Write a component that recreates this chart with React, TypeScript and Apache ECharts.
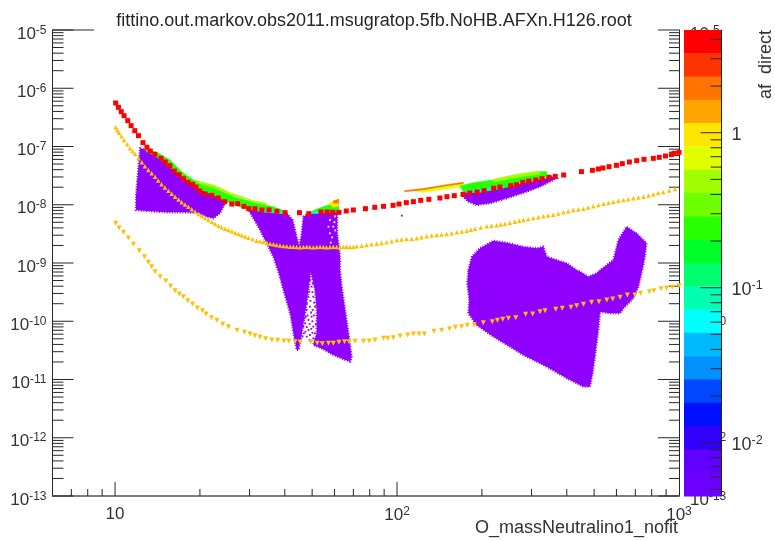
import React, { useEffect, useRef } from "react";
import * as echarts from "echarts";

const chartTitle = "fittino.out.markov.obs2011.msugratop.5fb.NoHB.AFXn.H126.root";
const xTitle = "O_massNeutralino1_nofit";
const barTitle = "af  direct";

// All points are [log10(mass), log10(sigma)].
const redPoints = [[1.002,-6.253],[1.012,-6.328],[1.022,-6.402],[1.032,-6.471],[1.045,-6.556],[1.057,-6.642],[1.07,-6.728],[1.083,-6.814],[1.099,-6.934],[1.113,-7.014],[1.125,-7.077],[1.141,-7.134],[1.163,-7.203],[1.178,-7.266],[1.194,-7.329],[1.21,-7.421],[1.227,-7.484],[1.243,-7.552],[1.259,-7.615],[1.275,-7.649],[1.287,-7.695],[1.3,-7.764],[1.319,-7.815],[1.343,-7.838],[1.366,-7.884],[1.389,-7.947],[1.414,-7.987],[1.435,-7.981],[1.457,-8.027],[1.474,-8.067],[1.496,-8.067],[1.521,-8.09],[1.546,-8.09],[1.574,-8.113],[1.603,-8.136],[1.654,-8.136],[1.687,-8.153],[1.73,-8.124],[1.752,-8.124],[1.772,-8.13],[1.794,-8.13],[1.82,-8.107],[1.845,-8.09],[1.888,-8.067],[1.921,-8.044],[1.952,-8.027],[1.986,-8.01],[2.007,-7.987],[2.033,-7.964],[2.058,-7.947],[2.084,-7.924],[2.113,-7.907],[2.152,-7.884],[2.177,-7.861],[2.203,-7.844],[2.234,-7.821],[2.258,-7.798],[2.284,-7.781],[2.309,-7.758],[2.343,-7.718],[2.365,-7.695],[2.403,-7.672],[2.424,-7.655],[2.446,-7.615],[2.467,-7.592],[2.492,-7.575],[2.514,-7.552],[2.539,-7.529],[2.561,-7.512],[2.591,-7.489],[2.654,-7.432],[2.693,-7.409],[2.714,-7.386],[2.73,-7.369],[2.752,-7.346],[2.778,-7.323],[2.799,-7.295],[2.824,-7.266],[2.85,-7.243],[2.876,-7.22],[2.909,-7.203],[2.93,-7.186],[2.952,-7.163],[2.973,-7.14],[2.983,-7.117],[3,-7.1]];

const goldUpperPoints = [[1.002,-6.671],[1.008,-6.715],[1.014,-6.763],[1.023,-6.825],[1.032,-6.888],[1.043,-6.96],[1.053,-7.031],[1.062,-7.08],[1.071,-7.129],[1.083,-7.2],[1.095,-7.272],[1.106,-7.338],[1.118,-7.403],[1.13,-7.46],[1.142,-7.518],[1.153,-7.584],[1.165,-7.649],[1.177,-7.703],[1.189,-7.758],[1.201,-7.81],[1.213,-7.861],[1.225,-7.91],[1.236,-7.958],[1.248,-7.996],[1.26,-8.033],[1.272,-8.076],[1.284,-8.119],[1.307,-8.193],[1.331,-8.262],[1.355,-8.33],[1.378,-8.388],[1.402,-8.433],[1.426,-8.479],[1.449,-8.525],[1.473,-8.565],[1.502,-8.617],[1.526,-8.639],[1.55,-8.668],[1.573,-8.691],[1.597,-8.708],[1.621,-8.72],[1.644,-8.725],[1.668,-8.725],[1.691,-8.725],[1.715,-8.725],[1.739,-8.725],[1.762,-8.725],[1.786,-8.725],[1.81,-8.725],[1.833,-8.725],[1.857,-8.714],[1.892,-8.691],[1.928,-8.668],[1.963,-8.645],[1.999,-8.605],[2.034,-8.588],[2.07,-8.577],[2.105,-8.542],[2.141,-8.519],[2.176,-8.502],[2.212,-8.474],[2.247,-8.445],[2.277,-8.411],[2.318,-8.371],[2.353,-8.353],[2.383,-8.325],[2.418,-8.29],[2.448,-8.262],[2.483,-8.227],[2.519,-8.199],[2.554,-8.17],[2.59,-8.13],[2.625,-8.09],[2.661,-8.067],[2.696,-8.027],[2.732,-7.981],[2.767,-7.947],[2.803,-7.918],[2.838,-7.89],[2.874,-7.861],[2.909,-7.821],[2.944,-7.781],[2.986,-7.73]];
const goldUpperDense = [[1.296,-8.157],[1.319,-8.228],[1.343,-8.296],[1.367,-8.36],[1.39,-8.41],[1.414,-8.456],[1.438,-8.502],[1.461,-8.545],[1.488,-8.59],[1.514,-8.628],[1.538,-8.654],[1.562,-8.68],[1.585,-8.7],[1.609,-8.714],[1.632,-8.722],[1.656,-8.73],[1.68,-8.72],[1.703,-8.73],[1.727,-8.72],[1.75,-8.73],[1.774,-8.722],[1.798,-8.73],[1.821,-8.72],[1.845,-8.72],[1.875,-8.702],[1.91,-8.68],[1.945,-8.655],[1.981,-8.625],[2.016,-8.597],[2.052,-8.582],[2.087,-8.56],[2.123,-8.53],[2.158,-8.51],[2.194,-8.488],[2.23,-8.46],[2.262,-8.428],[2.297,-8.39],[2.335,-8.362],[2.368,-8.34],[2.4,-8.308],[2.433,-8.276],[2.465,-8.245],[2.501,-8.213],[2.536,-8.185],[2.572,-8.15],[2.607,-8.11],[2.643,-8.08],[2.678,-8.047],[2.714,-8.004],[2.75,-7.964],[2.785,-7.932],[2.82,-7.904],[2.856,-7.876],[2.892,-7.84],[2.926,-7.8],[2.965,-7.755]];

const goldLowerPoints = [[1.002,-8.319],[1.014,-8.399],[1.03,-8.474],[1.047,-8.571],[1.065,-8.68],[1.086,-8.788],[1.104,-8.891],[1.118,-8.989],[1.13,-9.063],[1.142,-9.149],[1.16,-9.235],[1.18,-9.309],[1.197,-9.395],[1.213,-9.475],[1.228,-9.532],[1.242,-9.578],[1.258,-9.647],[1.275,-9.704],[1.292,-9.773],[1.31,-9.818],[1.323,-9.876],[1.342,-9.938],[1.361,-9.984],[1.382,-10.053],[1.402,-10.093],[1.433,-10.156],[1.459,-10.19],[1.479,-10.219],[1.496,-10.247],[1.514,-10.27],[1.534,-10.299],[1.556,-10.322],[1.577,-10.328],[1.599,-10.339],[1.616,-10.339],[1.638,-10.35],[1.656,-10.356],[1.694,-10.356],[1.717,-10.379],[1.735,-10.385],[1.757,-10.379],[1.774,-10.379],[1.794,-10.362],[1.814,-10.35],[1.83,-10.35],[1.851,-10.345],[1.881,-10.345],[1.901,-10.339],[1.922,-10.322],[1.952,-10.293],[1.967,-10.293],[1.987,-10.282],[2.011,-10.253],[2.038,-10.236],[2.058,-10.219],[2.078,-10.219],[2.097,-10.219],[2.131,-10.173],[2.158,-10.156],[2.186,-10.133],[2.207,-10.104],[2.229,-10.093],[2.249,-10.07],[2.274,-10.059],[2.306,-10.024],[2.338,-10.007],[2.356,-9.984],[2.375,-9.967],[2.395,-9.95],[2.421,-9.938],[2.456,-9.881],[2.481,-9.876],[2.507,-9.835],[2.525,-9.818],[2.563,-9.795],[2.586,-9.778],[2.617,-9.761],[2.637,-9.732],[2.661,-9.71],[2.69,-9.675],[2.716,-9.664],[2.744,-9.635],[2.765,-9.618],[2.791,-9.589],[2.817,-9.549],[2.844,-9.549],[2.864,-9.521],[2.895,-9.492],[2.911,-9.475],[2.936,-9.441],[2.956,-9.429],[2.976,-9.418],[3,-9.389]];

const regionLowMass = [[1.089,-7.031],[1.112,-7.06],[1.148,-7.117],[1.183,-7.232],[1.219,-7.432],[1.254,-7.575],[1.301,-7.718],[1.349,-7.804],[1.384,-7.918],[1.387,-8.004],[1.372,-8.147],[1.349,-8.233],[1.325,-8.204],[1.301,-8.147],[1.254,-8.13],[1.183,-8.13],[1.112,-8.107],[1.074,-8.09],[1.074,-7.861],[1.082,-7.403],[1.086,-7.174]];
const regionFunnel = [[1.473,-8.09],[1.526,-8.078],[1.609,-8.147],[1.63,-8.262],[1.644,-8.548],[1.653,-8.708],[1.66,-8.548],[1.668,-8.204],[1.686,-8.147],[1.727,-8.09],[1.774,-8.061],[1.788,-8.147],[1.788,-8.49],[1.798,-8.891],[1.798,-9.12],[1.804,-9.406],[1.816,-9.806],[1.828,-10.207],[1.839,-10.608],[1.834,-10.693],[1.81,-10.653],[1.774,-10.579],[1.739,-10.482],[1.703,-10.407],[1.715,-10.207],[1.715,-9.806],[1.709,-9.463],[1.694,-9.148],[1.686,-9.463],[1.674,-9.864],[1.664,-10.15],[1.658,-10.35],[1.65,-10.493],[1.644,-10.493],[1.638,-10.35],[1.621,-9.864],[1.597,-9.463],[1.579,-9.148],[1.561,-8.891],[1.538,-8.662],[1.508,-8.376]];
const regionStrip = [[2.229,-7.804],[2.294,-7.747],[2.389,-7.689],[2.46,-7.621],[2.554,-7.518],[2.566,-7.546],[2.507,-7.689],[2.46,-7.775],[2.389,-7.89],[2.33,-7.975],[2.282,-8.004],[2.253,-7.947],[2.235,-7.861]];
const regionHighMass = [[2.253,-9.12],[2.265,-8.891],[2.294,-8.748],[2.342,-8.616],[2.389,-8.651],[2.448,-8.719],[2.495,-8.748],[2.519,-8.719],[2.531,-8.891],[2.602,-9.005],[2.637,-9.12],[2.649,-9.148],[2.678,-9.234],[2.708,-9.177],[2.72,-9.12],[2.767,-8.948],[2.785,-8.605],[2.814,-8.376],[2.85,-8.49],[2.885,-8.662],[2.879,-8.891],[2.87,-9.12],[2.856,-9.406],[2.838,-9.606],[2.803,-9.778],[2.791,-9.864],[2.755,-9.864],[2.72,-9.835],[2.714,-10.15],[2.702,-10.608],[2.694,-10.894],[2.684,-11.123],[2.661,-11.123],[2.602,-10.98],[2.531,-10.78],[2.448,-10.579],[2.342,-10.264],[2.282,-10.064],[2.253,-9.864],[2.256,-9.635],[2.249,-9.349]];
const purpleSpeckles = [[1.691,-9.292],[1.697,-9.406],[1.686,-9.578],[1.703,-9.578],[1.691,-9.749],[1.68,-9.806],[1.709,-9.749],[1.686,-9.978],[1.697,-9.921],[1.674,-10.035],[1.703,-10.093],[1.686,-10.15],[1.668,-10.093],[1.709,-10.207],[1.691,-10.236],[1.68,-10.264],[1.703,-10.293],[1.67,-10.207],[1.677,-9.921],[1.701,-9.806],[1.689,-9.492],[1.701,-9.349],[2.017,-8.187],[1.685,-9.4],[1.7,-9.5],[1.693,-9.65],[1.68,-9.7],[1.706,-9.68],[1.695,-9.85],[1.683,-9.9],[1.705,-9.9],[1.672,-9.95],[1.69,-10.05],[1.7,-10.0],[1.68,-10.1],[1.712,-10.05],[1.66,-10.2],[1.696,-10.13],[1.675,-10.18],[1.69,-10.32],[1.71,-10.33],[1.7,-10.2],[1.665,-10.26]];
const whiteSpeckles = [[1.762,-8.262],[1.774,-8.376],[1.762,-8.49],[1.78,-8.2],[1.757,-8.376],[1.77,-8.56],[1.781,-8.44],[1.765,-8.65],[1.778,-8.3]];

const bandGreenLeft = [[1.106,-7.043],[1.148,-7.1],[1.195,-7.232],[1.236,-7.432],[1.278,-7.575],[1.325,-7.661],[1.372,-7.747],[1.42,-7.861],[1.491,-7.958],[1.561,-8.033],[1.609,-8.119],[1.603,-8.147],[1.526,-8.124],[1.455,-8.061],[1.396,-7.947],[1.361,-7.861],[1.313,-7.758],[1.266,-7.649],[1.219,-7.46],[1.171,-7.26],[1.136,-7.146],[1.112,-7.089]];
const bandLimeLeft = [[1.29,-7.586],[1.349,-7.661],[1.408,-7.792],[1.491,-7.93],[1.538,-7.975],[1.538,-8.01],[1.408,-7.83],[1.349,-7.71],[1.29,-7.62]];
const bandTealLeft = [[1.526,-8.09],[1.603,-8.119],[1.603,-8.158],[1.526,-8.124]];
const bandGreenMid = [[1.686,-8.147],[1.715,-8.073],[1.757,-8.004],[1.792,-7.918],[1.794,-8.119],[1.727,-8.147]];
const bandOrangeMid = [[1.757,-7.987],[1.774,-7.935],[1.793,-7.907],[1.793,-8.021],[1.774,-8.044]];
const bandRedMid = [[1.774,-7.935],[1.793,-7.907],[1.793,-7.964],[1.777,-7.975]];
const bandTealMid = [[1.686,-8.147],[1.727,-8.101],[1.727,-8.147]];
const bandYellowTop = [[2.058,-7.758],[2.176,-7.667],[2.235,-7.632],[2.235,-7.689],[2.176,-7.724],[2.093,-7.787]];
const bandOrangeTop = [[2.025,-7.758],[2.093,-7.722],[2.176,-7.655],[2.235,-7.615],[2.235,-7.635],[2.176,-7.675],[2.093,-7.742],[2.028,-7.775]];
const bandGreenRight = [[2.223,-7.678],[2.271,-7.621],[2.342,-7.575],[2.436,-7.489],[2.495,-7.432],[2.531,-7.432],[2.531,-7.518],[2.495,-7.575],[2.436,-7.632],[2.389,-7.701],[2.342,-7.747],[2.282,-7.792],[2.235,-7.775]];
const bandLimeRight = [[2.342,-7.563],[2.436,-7.466],[2.507,-7.426],[2.507,-7.472],[2.436,-7.523],[2.342,-7.609]];
const bandTealRight = [[2.241,-7.758],[2.294,-7.724],[2.377,-7.667],[2.377,-7.713],[2.294,-7.781],[2.249,-7.792]];

// Colour scale, top to bottom.
const paletteColors = ["#ff0000","#ff3300","#ff7300","#ffa500","#ffe600","#e1ff00","#a0ff00","#6eff00","#28ff00","#00ff28","#00ff6e","#00ffb0","#00ffff","#00baff","#0090ff","#0048ff","#0010ff","#3000ff","#6000ff","#6c00ff"];
const paletteLogEdges = [0.663,0.513,0.362,0.212,0.062,-0.088,-0.239,-0.389,-0.54,-0.69,-0.841,-0.991,-1.141,-1.291,-1.442,-1.592,-1.743,-1.893,-2.044,-2.194,-2.344];

const decadesY = [-13,-12,-11,-10,-9,-8,-7,-6,-5];
const rightLabelDecades = [-13,-12,-10,-5]; // the others lie wholly behind the colour bar
const minorMultipliers = [2,3,4,5,6,7,8,9];
const xMajorTicks = [10,100];
const xMinorTicks = [7,8,9,20,30,40,50,60,70,80,90,200,300,400,500,600,700,800,900];
const barMajorTicks = [1,0.1,0.01];
const barMinorTicks = [4,3,2,0.9,0.8,0.7,0.6,0.5,0.4,0.3,0.2,0.09,0.08,0.07,0.06,0.05,0.04,0.03,0.02,0.009,0.008,0.007,0.006,0.005];

const yMin = 1e-13, yMax = 1e-5, xMin = 6, xMax = 1000;
const barMin = 0.00453, barMax = 4.6;

const font = "Liberation Sans";
const ink = "#262626";
const purple = "#8f00ff";

const fromLog = (pts: number[][]) => pts.map(([x, y]) => [Math.pow(10, x), Math.pow(10, y)]);

const polygonSeries = (pts: number[][], color: string, z: number, fuzzy = false) => {
  const data = fromLog(pts);
  return {
    type: "custom", xAxisIndex: 0, yAxisIndex: 0, z, silent: true, clip: true, data,
    encode: { x: 0, y: 1 },
    renderItem: (p: any, api: any) =>
      p.dataIndex !== 0 ? null : {
        type: "polygon",
        shape: { points: data.map((d) => api.coord(d)) },
        style: fuzzy
          ? { fill: color, stroke: color, lineWidth: 2.2, lineDash: [1, 1.6] }
          : { fill: color, stroke: color, lineWidth: 0.6 },
      },
  };
};

const tickSeries = (data: number[][], dx: number, dy: number, width: number, xi: number, yi: number, z: number) => ({
  type: "custom", xAxisIndex: xi, yAxisIndex: yi, z, silent: true, clip: false, data,
  encode: { x: 0, y: 1 },
  renderItem: (_: any, api: any) => {
    const c = api.coord([api.value(0), api.value(1)]);
    return { type: "line", shape: { x1: c[0], y1: c[1], x2: c[0] + dx, y2: c[1] + dy }, style: { stroke: ink, lineWidth: width } };
  },
});

const markerSeries = (pts: number[][], symbol: string, size: number, color: string, z: number, rotate = 0) => ({
  type: "scatter", xAxisIndex: 0, yAxisIndex: 0, z, silent: true, clip: false,
  symbol, symbolSize: size, symbolRotate: rotate,
  itemStyle: { color, opacity: 1 },
  data: fromLog(pts),
});

const tenPower = (v: number) => {
  const e = Math.round(Math.log10(v));
  if (Math.abs(Math.log10(v) - e) > 0.001) return "";
  return e === 0 ? "{n|1}" : e === 1 ? "{n|10}" : `{n|10}{s|${e}}`;
};
const rightTenPower = (v: number) =>
  rightLabelDecades.includes(Math.round(Math.log10(v))) ? tenPower(v) : "";
const richLabel = {
  n: { fontFamily: font, fontSize: 17, color: "#333" },
  s: { fontFamily: font, fontSize: 12, color: "#333", padding: [0, 0, 7, 0] },
};
const barRichLabel = {
  n: { fontFamily: font, fontSize: 18, color: "#333" },
  s: { fontFamily: font, fontSize: 12.5, color: "#333", padding: [0, 0, 8, 0] },
};

export default function App() {
  const ref = useRef<HTMLDivElement>(null);
  useEffect(() => {
    const chart = echarts.init(ref.current!, undefined, { renderer: "svg" });
    const minorY: number[] = [];
    decadesY.slice(0, -1).forEach((d) => minorMultipliers.forEach((m) => minorY.push(Number(`${m}e${d}`))));
    const majorY = decadesY.map((d) => Number(`1e${d}`));
    chart.setOption({
      animation: false,
      backgroundColor: "#fff",
      title: {
        text: chartTitle, left: 369, top: 6, textAlign: "center",
        textStyle: { fontFamily: font, fontSize: 18, fontWeight: "normal", color: "#262626" },
      },
      grid: [
        { left: 52.5, top: 30, width: 626.5, height: 466, containLabel: false },
        { left: 684, top: 30, width: 37.5, height: 466, containLabel: false },
      ],
      xAxis: [
        { type: "log", logBase: 10, gridIndex: 0, min: xMin, max: xMax, position: "bottom",
          axisLine: { show: true, lineStyle: { color: "#555", width: 1.5 } }, axisTick: { show: false }, splitLine: { show: false },
          axisLabel: { show: true, margin: 9, formatter: tenPower, rich: richLabel, showMinLabel: false } },
        { type: "value", gridIndex: 1, min: 0, max: 1, show: false },
      ],
      yAxis: [
        { type: "log", logBase: 10, gridIndex: 0, min: yMin, max: yMax, position: "left",
          axisLine: { show: true, lineStyle: { color: ink, width: 1 } }, axisTick: { show: false }, splitLine: { show: false },
          axisLabel: { margin: 6, padding: [6, 0, 0, 0], formatter: tenPower, rich: richLabel, align: "right" } },
        { type: "log", logBase: 10, gridIndex: 0, min: yMin, max: yMax, position: "right",
          axisLine: { show: true, lineStyle: { color: ink, width: 1 } }, axisTick: { show: false }, splitLine: { show: false },
          axisLabel: { margin: 11, padding: [6, 0, 0, 0], formatter: rightTenPower, rich: richLabel, align: "left" } },
        { type: "log", logBase: 10, gridIndex: 1, min: barMin, max: barMax, position: "right",
          axisLine: { show: true, onZero: false, lineStyle: { color: ink, width: 1 } }, axisTick: { show: false }, splitLine: { show: false }, z: 8,
          axisLabel: { margin: 10, padding: [3, 0, 0, 0], formatter: tenPower, rich: barRichLabel, align: "left" } },
      ],
      graphic: [
        { type: "line", shape: { x1: 52.5, y1: 30, x2: 94, y2: 30 }, style: { stroke: ink, lineWidth: 1 } },
        { type: "text", x: 678, y: 527, style: { text: xTitle, fontFamily: font, fontSize: 18, fill: "#333", textAlign: "right", textVerticalAlign: "middle" } },
        { type: "text", x: 765, y: 30, rotation: Math.PI / 2, style: { text: barTitle, fontFamily: font, fontSize: 18, fill: "#333", textAlign: "right", textVerticalAlign: "middle" } },
      ],
      series: [
        polygonSeries(regionLowMass, purple, 2, true),
        polygonSeries(regionFunnel, purple, 2, true),
        polygonSeries(regionStrip, purple, 2, true),
        polygonSeries(regionHighMass, purple, 2, true),
        markerSeries(purpleSpeckles, "rect", 1.8, purple, 2),
        markerSeries(whiteSpeckles, "rect", 1.8, "#ffffff", 2),
        polygonSeries(bandGreenLeft, paletteColors[8], 3),
        polygonSeries(bandLimeLeft, paletteColors[6], 3),
        polygonSeries(bandTealLeft, paletteColors[11], 3),
        polygonSeries(bandGreenMid, paletteColors[8], 3),
        polygonSeries(bandTealMid, paletteColors[12], 3),
        polygonSeries(bandOrangeMid, paletteColors[4], 3),
        polygonSeries(bandRedMid, paletteColors[2], 3),
        polygonSeries(bandYellowTop, paletteColors[5], 3),
        polygonSeries(bandOrangeTop, paletteColors[2], 3),
        polygonSeries(bandGreenRight, paletteColors[8], 3),
        polygonSeries(bandLimeRight, paletteColors[6], 3),
        polygonSeries(bandTealRight, paletteColors[11], 3),
        markerSeries(goldUpperPoints, "triangle", 4.5, "#ffc000", 4),
        markerSeries(goldUpperDense, "triangle", 4.5, "#ffc000", 4),
        markerSeries(goldLowerPoints, "triangle", 5, "#ffc000", 4, 180),
        markerSeries(redPoints, "rect", 5, "#ff0000", 5),
        tickSeries(majorY.map((v) => [xMin, v]), 21, 0, 1, 0, 0, 1),
        tickSeries(minorY.map((v) => [xMin, v]), 11, 0, 1, 0, 0, 1),
        tickSeries(majorY.map((v) => [xMax, v]), -21, 0, 1, 0, 0, 1),
        tickSeries(minorY.map((v) => [xMax, v]), -10, 0, 1, 0, 0, 1),
        tickSeries(xMajorTicks.map((v) => [v, yMin]), 0, -14, 1, 0, 0, 1),
        tickSeries(xMinorTicks.map((v) => [v, yMin]), 0, -7, 1, 0, 0, 1),
        {
          type: "custom", xAxisIndex: 1, yAxisIndex: 2, z: 6, silent: true, clip: false,
          data: paletteColors.map((_, i) => [0, Math.pow(10, paletteLogEdges[i]), 1, Math.pow(10, paletteLogEdges[i + 1])]),
          encode: { x: [0, 2], y: [1, 3] },
          renderItem: (p: any, api: any) => {
            const a = api.coord([0, api.value(1)]);
            const b = api.coord([1, api.value(3)]);
            return {
              type: "rect",
              shape: { x: a[0], y: a[1], width: b[0] - a[0], height: b[1] - a[1] + 0.5 },
              style: { fill: paletteColors[p.dataIndex] },
            };
          },
        },
        tickSeries(barMajorTicks.map((v) => [1, v]), -21, 0, 1, 1, 2, 7),
        tickSeries(barMinorTicks.map((v) => [1, v]), -11, 0, 1, 1, 2, 7),
      ],
    });
    return () => chart.dispose();
  }, []);
  return (
    <div
      ref={ref}
      style={{ position: "absolute", left: 0, top: 0, width: 775, height: 541, background: "#fff", filter: "blur(0.4px)" }}
    />
  );
}
